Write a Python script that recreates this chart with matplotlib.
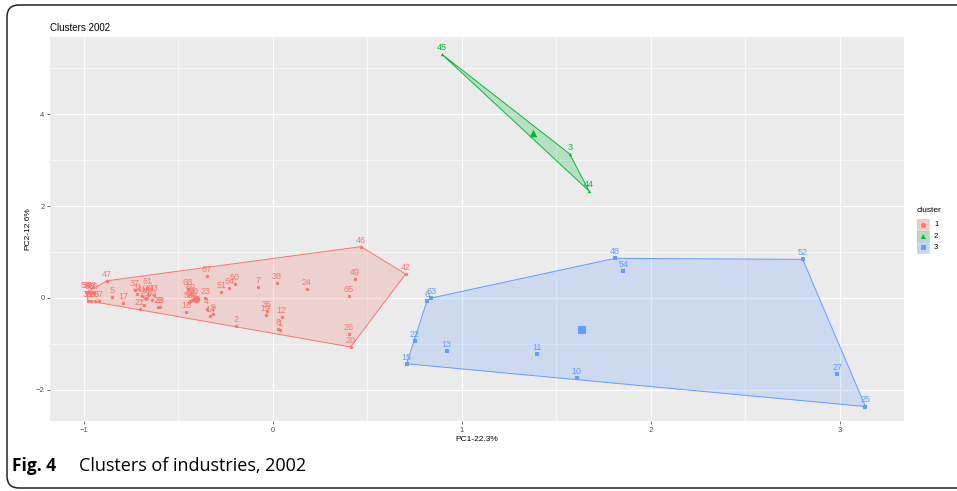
import numpy as np
import matplotlib
matplotlib.use("Agg")
import matplotlib.pyplot as plt
from matplotlib.patches import FancyBboxPatch, Rectangle
from matplotlib.lines import Line2D

plt.rcParams['font.family'] = ['Liberation Sans', 'DejaVu Sans']

# industry scores on the first two principal components, by cluster
red_labels = [2, 4, 5, 7, 8, 1, 9, 12, 14, 16, 17, 19, 20, 21, 23, 24, 26, 35,
              37, 38, 42, 43, 46, 47, 49, 50, 51, 61, 64, 65, 67, 68, 69, 70,
              28, 29, 31, 34, 36, 39, 40, 41, 53, 55, 56,
              58, 59, 60, 62, 66, 30, 32, 33, 57]
red_x = [-0.197, -0.351, -0.853, -0.079, 0.025, 0.037, -0.316, 0.046, -0.332, -0.459,
         -0.792, -0.039, 0.411, -0.704, -0.358, 0.178, 0.402, -0.033,
         -0.732, 0.021, 0.702, -0.628, 0.466, -0.877, 0.434, -0.203, -0.274, -0.665,
         -0.231, 0.402, -0.351, -0.450, -0.435, -0.418,
         -0.598, -0.607, -0.718, -0.672, -0.681, -0.660, -0.642, -0.693, -0.437, -0.427, -0.445,
         -0.989, -0.979, -0.968, -0.958, -0.947, -0.979, -0.963, -0.942, -0.921]
red_y = [-0.615, -0.23, 0.03, 0.246, -0.67, -0.69, -0.35, -0.42, -0.40, -0.31,
         -0.11, -0.37, -1.065, -0.24, 0.0, 0.19, -0.78, -0.275,
         0.174, 0.326, 0.52, 0.06, 1.116, 0.376, 0.41, 0.304, 0.13, 0.21,
         0.224, 0.05, 0.478, 0.20, 0.08, -0.01,
         -0.19, -0.20, 0.087, -0.007, -0.15, 0.065, -0.043, 0.04, -0.06, -0.045, -0.09,
         0.12, 0.13, 0.11, 0.12, 0.10, -0.06, -0.07, -0.07, -0.06]

green_labels = [45, 3, 44]
green_x = [0.894, 1.571, 1.672]
green_y = [5.30, 3.13, 2.33]

blue_labels = [48, 54, 63, 6, 22, 15, 13, 11, 10, 52, 27, 25]
blue_x = [1.811, 1.855, 0.838, 0.815, 0.751, 0.707, 0.919, 1.398, 1.608, 2.804, 2.986, 3.136]
blue_y = [0.863, 0.587, 0.0, -0.07, -0.93, -1.43, -1.15, -1.22, -1.74, 0.84, -1.66, -2.36]

clusters = [
    ("1", red_labels, red_x, red_y, "#F8766D", "o"),
    ("2", green_labels, green_x, green_y, "#00BA38", "^"),
    ("3", blue_labels, blue_x, blue_y, "#619CFF", "s"),
]


def convex_hull(xs, ys):
    pts = sorted(set(zip(xs, ys)))

    def cross(o, a, b):
        return (a[0] - o[0]) * (b[1] - o[1]) - (a[1] - o[1]) * (b[0] - o[0])

    lower = []
    for p in pts:
        while len(lower) >= 2 and cross(lower[-2], lower[-1], p) <= 0:
            lower.pop()
        lower.append(p)
    upper = []
    for p in reversed(pts):
        while len(upper) >= 2 and cross(upper[-2], upper[-1], p) <= 0:
            upper.pop()
        upper.append(p)
    return lower[:-1] + upper[:-1]


W, H = 957, 491
fig = plt.figure(figsize=(W / 100, H / 100), dpi=100)


def fx(px):
    return px / W


def fy(py):
    return 1 - py / H


ax = fig.add_axes([fx(50), fy(421), fx(904) - fx(50), fy(37) - fy(421)])
ax.set_facecolor("#EBEBEB")
ax.set_xlim(-1.18, 3.34)
ax.set_ylim(-2.674, 5.674)
ax.set_xticks([-1, 0, 1, 2, 3])
ax.set_yticks([-2, 0, 2, 4])
ax.set_xticks(np.arange(-0.5, 3.4, 1.0), minor=True)
ax.set_yticks([-1, 1, 3, 5], minor=True)
ax.grid(which="major", color="white", lw=0.9)
ax.grid(which="minor", color="white", lw=0.45)
ax.set_axisbelow(True)
for s in ax.spines.values():
    s.set_visible(False)
ax.tick_params(which="major", length=2, width=0.5, color="#333333",
               labelsize=5.5, labelcolor="#4D4D4D", pad=2)
ax.tick_params(which="minor", length=0)

for name, labs, xs, ys, col, mk in clusters:
    hull = convex_hull(xs, ys)
    hx = [p[0] for p in hull]
    hy = [p[1] for p in hull]
    ax.fill(hx, hy, facecolor=col, alpha=0.22, edgecolor="none", zorder=2)
    ax.fill(hx, hy, facecolor="none", edgecolor=col, lw=0.7, zorder=3)
    ax.scatter(xs, ys, s=6, marker=mk, color=col, zorder=4, linewidths=0)
    for lab, x, y in zip(labs, xs, ys):
        ax.annotate(str(lab), (x, y), xytext=(0, 1.5), textcoords="offset points",
                    ha="center", va="bottom", fontsize=6.5, color=col, zorder=5)
    ax.scatter([np.mean(xs)], [np.mean(ys)], s=30, marker=mk, color=col,
               zorder=4, linewidths=0)

ax.set_xlabel("PC1-22.3%", fontsize=6, labelpad=2)
ax.set_ylabel("PC2-12.6%", fontsize=6, labelpad=3)
fig.text(fx(50), fy(28), "Clusters 2002", fontsize=7, va="center", ha="left")

# legend
fig.text(fx(917), fy(210), "cluster", fontsize=6, va="center", ha="left")
for i, (name, labs, xs, ys, col, mk) in enumerate(clusters):
    top = 219 + i * 11.5
    fig.add_artist(Rectangle((fx(917), fy(top + 11)), fx(12), fy(0) - fy(11),
                             facecolor="#EBEBEB", edgecolor="none"))
    fig.add_artist(Rectangle((fx(917), fy(top + 11)), fx(12), fy(0) - fy(11),
                             facecolor=col, alpha=0.25, edgecolor=col, lw=0.6))
    fig.add_artist(Line2D([fx(923)], [fy(top + 5.5)], marker=mk, markersize=3.6,
                          color=col, markeredgewidth=0, transform=fig.transFigure))
    fig.text(fx(934), fy(top + 5.5), name, fontsize=5.5, va="center", ha="left")

# caption and frame
fig.text(fx(12), fy(466), "Fig. 4", fontsize=12.5, fontweight="bold",
         family="Open Sans", va="center", ha="left")
fig.text(fx(79), fy(466), "Clusters of industries, 2002", fontsize=13,
         family="Open Sans", va="center", ha="left")
frame = FancyBboxPatch((0.07, 0.03), 10.5, 4.83,
                       boxstyle="round,pad=0,rounding_size=0.12",
                       transform=fig.dpi_scale_trans, facecolor="none",
                       edgecolor="#222222", lw=1.1)
fig.add_artist(frame)

fig.savefig("out.png", dpi=100)
